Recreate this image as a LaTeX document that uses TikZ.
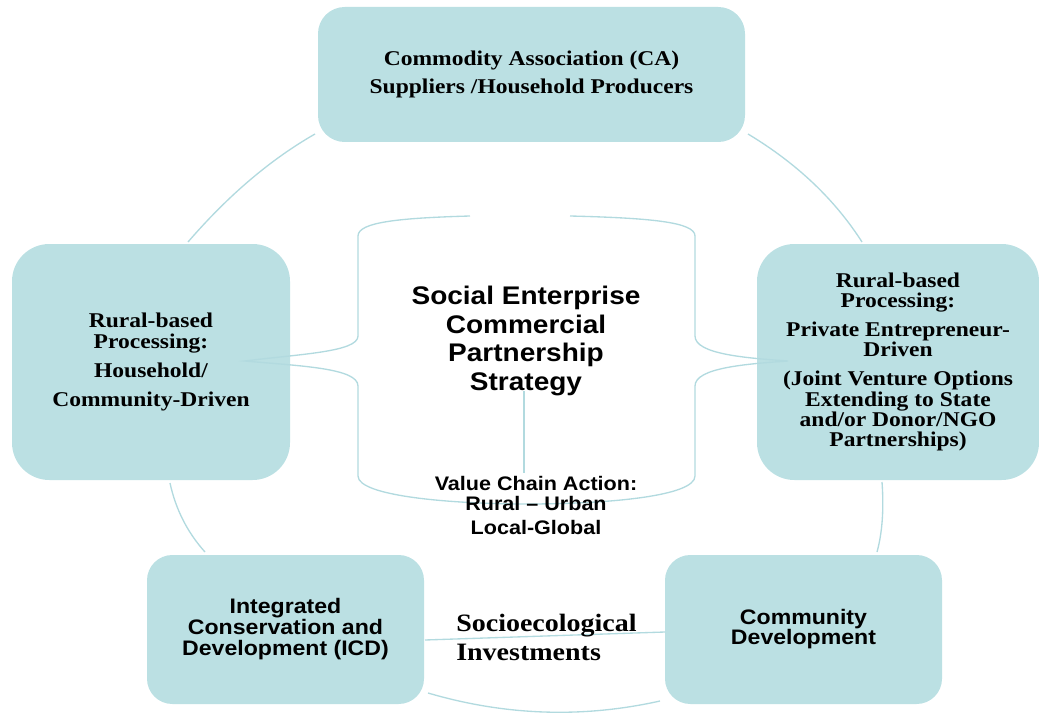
\documentclass[tikz,border=0pt]{standalone}
\usepackage{fontspec}
\newfontfamily\serifb[FakeStretch=1.12]{Liberation Serif}
\newfontfamily\sansb[FakeStretch=1.1]{Liberation Sans}
\definecolor{boxfill}{HTML}{BBE0E3}
\definecolor{linec}{HTML}{B2DADF}
\begin{document}
\begin{tikzpicture}[x=0.75pt,y=-0.75pt,
  box/.style={fill=boxfill, draw=none, inner sep=0pt, align=center},
  conn/.style={draw=linec, line width=1pt},
  sbox/.style={font=\serifb\bfseries\fontsize{15.75}{15.75}\selectfont},
  ssbox/.style={font=\sansb\bfseries\fontsize{15.75}{15.75}\selectfont},
  freetext/.style={inner sep=0pt, text=black}]
\useasboundingbox (0,0) rectangle (1039,713);

% boxes
\node[box, sbox, minimum width=320.25pt, minimum height=101.25pt, rounded corners=20pt]
  (ca) at (531.5,74.5) {Commodity Association (CA)\\[5.25pt]Suppliers /Household Producers};
\node[box, sbox, minimum width=208.5pt, minimum height=177pt, rounded corners=28pt]
  (left) at (151,362) {Rural-based\\Processing:\\[6pt]Household/\\[6pt]Community-Driven};
\node[box, sbox, minimum width=211.5pt, minimum height=177pt, rounded corners=28pt,
  font=\serifb\bfseries\fontsize{15.75}{15.2}\selectfont]
  (right) at (898,362) {Rural-based\\Processing:\\[6.5pt]Private Entrepreneur-\\Driven\\[6.5pt](Joint Venture Options\\Extending to State\\and/or Donor/NGO\\Partnerships)};
\node[box, ssbox, minimum width=207.75pt, minimum height=111.75pt, rounded corners=19pt]
  (icd) at (285.5,629.5) {Integrated\\Conservation and\\Development (ICD)};
\node[box, ssbox, minimum width=207.75pt, minimum height=111.75pt, rounded corners=19pt,
  font=\sansb\bfseries\fontsize{15.75}{15}\selectfont]
  (cd) at (803.5,629.5) {Community\\Development};

% connector end points
\coordinate (a1) at (315,134);  \coordinate (a2) at (188,242);
\coordinate (b1) at (748,134);  \coordinate (b2) at (862,242);
\coordinate (c1) at (170,483);  \coordinate (c2) at (205,552);
\coordinate (d1) at (882,482);  \coordinate (d2) at (877,552);
\coordinate (e1) at (428,693);  \coordinate (e2) at (660,701);
\coordinate (f1) at (425,640);  \coordinate (f2) at (665,632);
\coordinate (tl) at (470,216);  \coordinate (tr) at (570,216);
\coordinate (ltip) at (245,361); \coordinate (rtip) at (788,361);
\coordinate (v1) at (524,391);  \coordinate (v2) at (524,473);

% outer cycle arcs
\draw[conn] (a1) .. controls (270.7,159.3) and (228.3,195.3) .. (a2);
\draw[conn] (b1) .. controls (796.7,163.3) and (834.7,199.3) .. (b2);
\draw[conn] (c1) .. controls (175.7,509.3) and (187.3,532.3) .. (c2);
\draw[conn] (d1) .. controls (884,509.3) and (882.3,532.7) .. (d2);
\draw[conn] (e1) .. controls (505.3,715.7) and (582.7,718.3) .. (e2);
\draw[conn] (f1) -- (f2);

% central bracket shape
\draw[conn] (tl) .. controls (400,218) and (358,222) .. (358,236)
  -- (358,336) .. controls (358,352) and (300,354) .. (ltip)
  .. controls (300,366) and (358,368) .. (358,386)
  -- (358,476) .. controls (358,496) and (450,504) .. (527,504)
  .. controls (610,504) and (695,496) .. (695,476)
  -- (695,386) .. controls (695,368) and (745,364) .. (rtip)
  .. controls (745,358) and (695,354) .. (695,336)
  -- (695,236) .. controls (695,222) and (650,218) .. (tr);
\draw[conn] (v1) -- (v2);

% free texts
\node[freetext, align=center, font=\sansb\bfseries\fontsize{19.1}{21.4}\selectfont]
  (core) at (526,341) {Social Enterprise\\Commercial\\Partnership\\Strategy};
\node[freetext, align=center, font=\sansb\bfseries\fontsize{14.7}{15}\selectfont]
  (vca) at (536,505) {Value Chain Action:\\Rural \textendash{} Urban\\[3pt]Local-Global};
\node[freetext, align=left, anchor=west, font=\serifb\bfseries\fontsize{18.75}{21.75}\selectfont]
  (socio) at (456,637) {Socioecological\\Investments};
\end{tikzpicture}
\end{document}
